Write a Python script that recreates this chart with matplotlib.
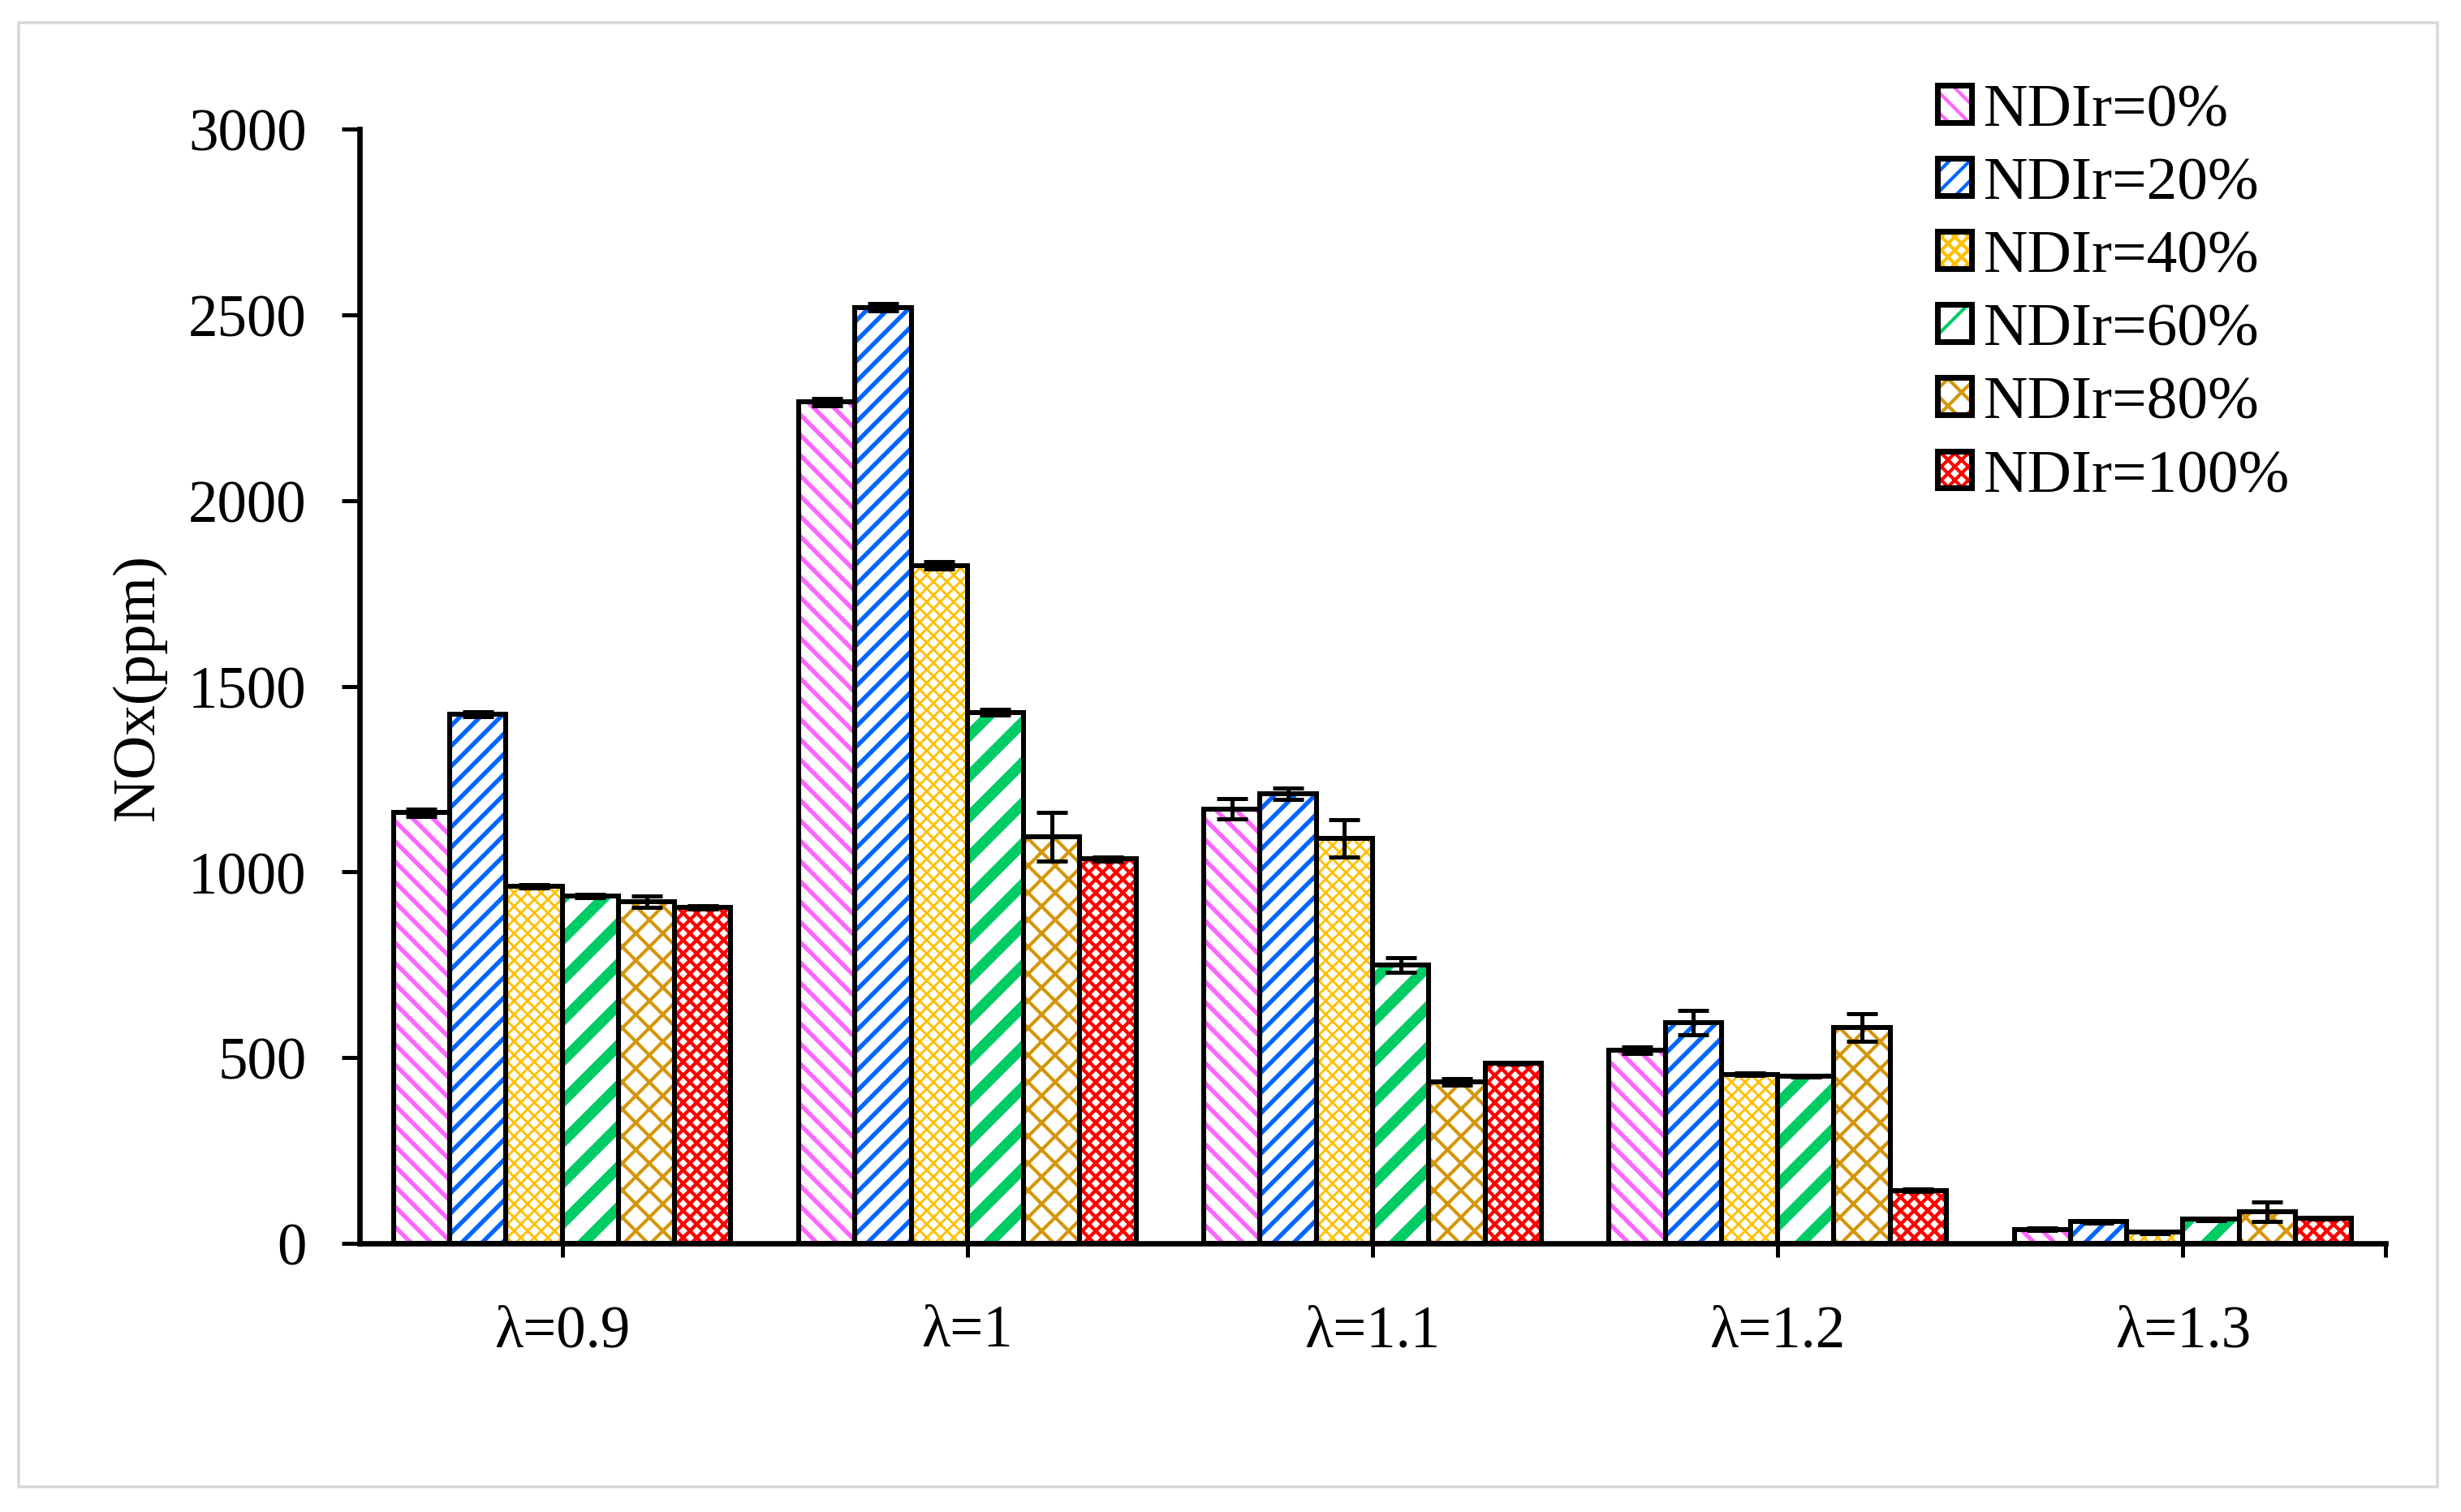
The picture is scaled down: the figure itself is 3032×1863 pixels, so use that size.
import numpy as np
import matplotlib
matplotlib.use('Agg')
import matplotlib.pyplot as plt
from matplotlib.patches import Patch, Rectangle

# data
categories = ['λ=0.9', 'λ=1', 'λ=1.1', 'λ=1.2', 'λ=1.3']
series_names = ['NDIr=0%', 'NDIr=20%', 'NDIr=40%', 'NDIr=60%', 'NDIr=80%', 'NDIr=100%']

nox_0 = [1160, 2265, 1170, 520, 38]
nox_20 = [1425, 2520, 1210, 595, 58]
nox_40 = [962, 1825, 1090, 455, 30]
nox_60 = [935, 1430, 750, 450, 65]
nox_80 = [920, 1095, 435, 582, 85]
nox_100 = [905, 1035, 485, 143, 68]

err_0 = [10, 10, 28, 8, 3]
err_20 = [7, 10, 15, 33, 3]
err_40 = [4, 10, 50, 3, 3]
err_60 = [4, 8, 20, 3, 3]
err_80 = [16, 65, 8, 37, 27]
err_100 = [5, 5, 3, 3, 3]

values = [nox_0, nox_20, nox_40, nox_60, nox_80, nox_100]
errors = [err_0, err_20, err_40, err_60, err_80, err_100]

# style: (face, hatch colour, hatch, hatch linewidth)
styles = [
    ('white', '#FF66FF', '\\' * 4, 1.3),
    ('white', '#0066FF', '/' * 4, 1.3),
    ('white', '#FFC000', 'x' * 6, 0.7),
    ('white', '#00CC66', '/' * 2, 3.2),
    ('white', '#D4960A', 'x' * 3, 1.0),
    ('white', '#FF0000', 'x' * 6, 1.05),
]

plt.rcParams['font.family'] = ['Liberation Serif', 'DejaVu Serif']

fig = plt.figure(figsize=(3032 / 300, 1864 / 300), dpi=300)
ax = fig.add_axes([443 / 3032, 1 - 1533 / 1864, (2939 - 443) / 3032, (1533 - 160) / 1864])

x = np.arange(len(categories))
width = 0.1388
edge_lw = 1.45

handles = []
for i, (vals, errs) in enumerate(zip(values, errors)):
    face, hcol, hatch, hlw = styles[i]
    pos = x + (i - 2.5) * width
    with plt.rc_context({'hatch.linewidth': hlw}):
        bars = ax.bar(pos, vals, width, color=face, edgecolor=hcol, hatch=hatch, linewidth=0, zorder=2)
        for b in bars:
            if hasattr(b, 'set_hatch_linewidth'):
                b.set_hatch_linewidth(hlw)
        p = Patch(facecolor=face, edgecolor=hcol, hatch=hatch, linewidth=0)
        if hasattr(p, 'set_hatch_linewidth'):
            p.set_hatch_linewidth(hlw)
        handles.append((p, Patch(fill=False, edgecolor='black', linewidth=1.7)))
    ax.bar(pos, vals, width, fill=False, edgecolor='black', linewidth=edge_lw, zorder=3)
    ax.errorbar(pos, vals, yerr=errs, fmt='none', ecolor='black', elinewidth=1.2,
                capsize=4.6, capthick=1.2, zorder=4)

ax.set_xlim(-0.5, 4.5)
ax.set_ylim(0, 3000)
ax.set_yticks(np.arange(0, 3001, 500))
ax.set_xticks(x)
ax.set_xticklabels(categories)
ax.set_xticks([4.5], minor=True)

for s in ['top', 'right']:
    ax.spines[s].set_visible(False)
for s in ['left', 'bottom']:
    ax.spines[s].set_linewidth(1.6)

ax.tick_params(axis='y', which='major', direction='out', length=5.2, width=1.2, pad=10.5, labelsize=17.5)
ax.tick_params(axis='x', which='both', direction='out', length=4, width=1.2, pad=14, labelsize=17.5)

ax.set_ylabel('NOx(ppm)', fontsize=18, va='center')
ax.yaxis.set_label_coords(-0.109, 0.5)

fig.legend(handles, series_names, loc='upper left', bbox_to_anchor=(2387 / 3032, 1 - 104 / 1864),
           frameon=False, fontsize=18.1, handlelength=0.56, handleheight=0.56,
           handletextpad=0.19, labelspacing=0.3, borderpad=0, borderaxespad=0)

# light grey frame around the whole chart
fig.patches.append(Rectangle((23 / 3032, 1 - 1833 / 1864), (3003 - 23) / 3032, (1833 - 29) / 1864,
                             transform=fig.transFigure, fill=False, edgecolor='#D9D9D9', linewidth=0.9))

fig.savefig('out.png', dpi=300)
